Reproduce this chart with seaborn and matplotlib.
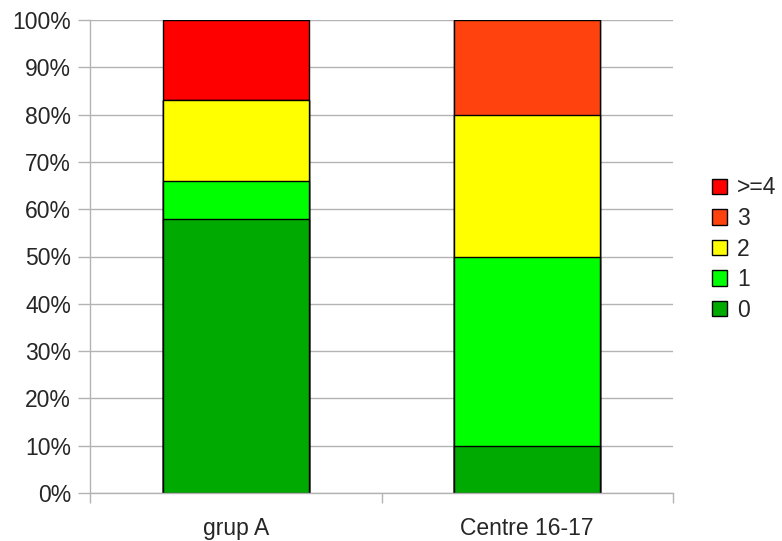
import numpy as np
import pandas as pd
import matplotlib
matplotlib.use("Agg")
import matplotlib.pyplot as plt
import seaborn as sns
from matplotlib.patches import Patch
from matplotlib.ticker import FixedLocator, FuncFormatter

# Data (percentages)
categories = ["grup A", "Centre 16-17"]
levels = ["0", "1", "2", "3", ">=4"]
v0 = [58, 10]
v1 = [8, 40]
v2 = [17, 30]
v3 = [0, 20]
v4 = [17, 0]

colors = {"0": "#00aa00", "1": "#00ff00", "2": "#ffff00", "3": "#ff420e", ">=4": "#ff0000"}

sns.set_style("white")
plt.rcParams['font.family'] = ['Liberation Sans', 'DejaVu Sans']

df = pd.DataFrame({"cat": categories, "0": v0, "1": v1, "2": v2, "3": v3, ">=4": v4})
cum = df[levels].cumsum(axis=1)

fig = plt.figure(figsize=(7.82, 5.41), dpi=100)
ax = fig.add_axes([90 / 782, 1 - 493 / 541, (673 - 90) / 782, (493 - 20) / 541])

# draw cumulative totals from the top layer down so each segment shows
for lev in reversed(levels):
    sns.barplot(x=df["cat"], y=cum[lev], color=colors[lev], width=0.5,
                edgecolor="black", linewidth=1, ax=ax, saturation=1)

ax.set_ylim(0, 100)
ax.set_xlim(-0.5, 1.5)
ax.set_yticks(np.arange(0, 101, 10))
ax.yaxis.set_major_formatter(FuncFormatter(lambda v, p: f"{int(v)}%"))
ax.grid(axis="y", color="#b3b3b3", linewidth=1)
ax.set_axisbelow(True)
ax.set_xlabel("")
ax.set_ylabel("")

for s in ["top", "right"]:
    ax.spines[s].set_visible(False)
for s in ["left", "bottom"]:
    ax.spines[s].set_color("#b3b3b3")
    ax.spines[s].set_linewidth(1)

ax.tick_params(axis="y", left=True, length=8.5, width=1, color="#b3b3b3", labelsize=16.5, pad=5)
ax.tick_params(axis="x", which="major", bottom=True, length=0, labelsize=16.5, pad=17)
ax.xaxis.set_minor_locator(FixedLocator([-0.5, 0.5, 1.5]))
ax.tick_params(axis="x", which="minor", bottom=True, length=7.5, color="#b3b3b3", width=1)

handles = [Patch(facecolor=colors[l], edgecolor="black", label=l) for l in reversed(levels)]
fig.legend(handles=handles, loc="center left", bbox_to_anchor=(712 / 782, 1 - 249 / 541),
           frameon=False, fontsize=16.5, handlelength=0.65, handleheight=0.65,
           handletextpad=0.45, labelspacing=0.33, borderpad=0, borderaxespad=0)

fig.savefig("out.png", dpi=100)
